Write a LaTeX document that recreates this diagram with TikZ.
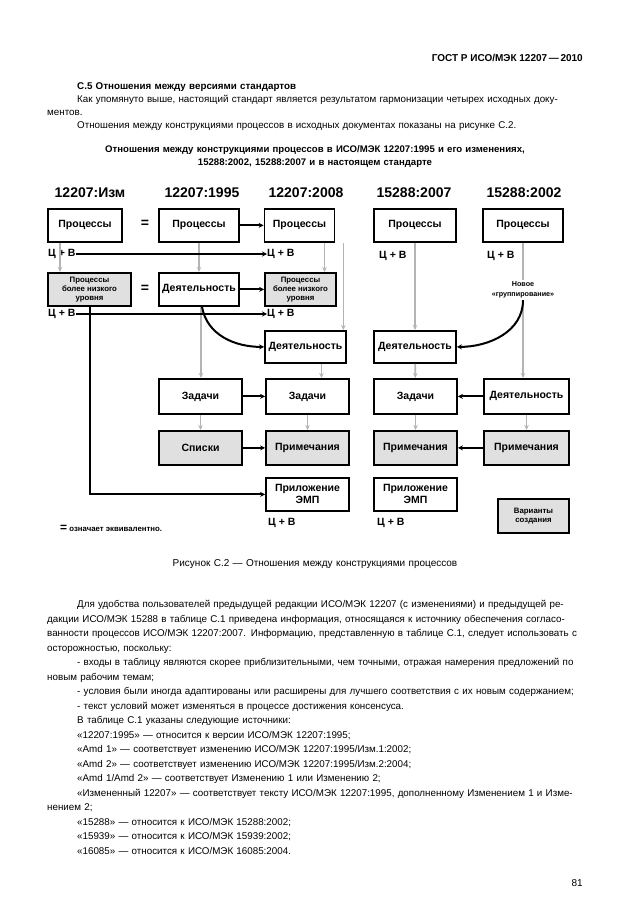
\documentclass[tikz,border=0pt]{standalone}
\usepackage{fontspec}
\setmainfont{Liberation Sans}
\usepackage{xcolor}
\usepackage{tikz}
\usetikzlibrary{
    calc,
    positioning,
    arrows.meta
}

\newcommand{\jline}[1]{\makebox[\linewidth][s]{#1}}
\newcommand{\jind}[1]{\hspace*{30pt}\makebox[\dimexpr\linewidth-30pt\relax][s]{#1}}
\newcommand{\ind}[1]{\hspace*{30pt}\mbox{#1}}

\begin{document}
\begin{tikzpicture}[
    x=1pt, y=-1pt,
    font=\bfseries\fontsize{10.5}{12}\selectfont,
    box/.style={
    	draw,
    	line width=1.8pt,
    	minimum width=82pt,
    	minimum height=33pt,
    	inner sep=1pt, align=center, anchor=north
    }, small/.style={
    	font=\bfseries\fontsize{7.8}{9}\selectfont
    }, pil/.style={
    	-{Stealth[length=5pt, width=5pt]},
    	line width=2pt
    }, gpil/.style={
    	-{Stealth[length=5pt, width=4.5pt]},
    	draw=my-grey,
    	line width=1.6pt
    }, lab/.style={
    	inner sep=0pt, anchor=west,
    	font=\bfseries\fontsize{10.5}{12}\selectfont
    }, head/.style={
    	inner sep=0pt,
    	font=\bfseries\fontsize{14}{15}\selectfont
    }, body/.style={
    	inner sep=0pt, anchor=base west, text width=541pt, align=left,
    	font=\mdseries\fontsize{9.8}{14.5}\selectfont
    }]
    \definecolor{my-fill}{RGB}{224, 224, 224}
    \definecolor{my-grey}{RGB}{180, 180, 180}

    \fill[white] (0,0) rectangle (630,913);
    \useasboundingbox (0,0) rectangle (630,913);

    %%% PAGE TEXT
    \node[inner sep=0pt, anchor=base east, font=\bfseries\fontsize{10}{12}\selectfont] (gost) at (583,61) {ГОСТ Р ИСО/МЭК 12207\,—\,2010};

    \node[body, font=\mdseries\fontsize{9.8}{13}\selectfont] (par-a) at (47,89.5) {%
    	\ind{\textbf{С.5 Отношения между версиями стандартов}}\\
    	\jind{Как упомянуто выше, настоящий стандарт является результатом гармонизации четырех исходных доку-}\\
    	\mbox{ментов.}\\
    	\ind{Отношения между конструкциями процессов в исходных документах показаны на рисунке С.2.}};

    \node[body, anchor=base, text width=560pt, align=center, font=\bfseries\fontsize{9.6}{13}\selectfont] (title) at (315,152.5) {%
    	Отношения между конструкциями процессов в ИСО/МЭК 12207:1995 и его изменениях,\\
    	15288:2002, 15288:2007 и в настоящем стандарте};

    %%% COLUMN HEADS
    \node[head] (head-1) at (90,193) {12207:Изм};
    \node[head] (head-2) at (202,193) {12207:1995};
    \node[head] (head-3) at (306,193) {12207:2008};
    \node[head] (head-4) at (414,193) {15288:2007};
    \node[head] (head-5) at (524,193) {15288:2002};

    %%% BOXES
    \node[box, minimum width=74pt] (proc-1) at (85,208) {Процессы};
    \node[box, minimum width=80pt] (proc-2) at (199,208) {Процессы};
    \node[box, minimum width=70pt] (proc-3) at (299.5,208) {Процессы};
    \node[box, minimum width=82pt] (proc-4) at (415,208) {Процессы};
    \node[box, minimum width=80pt] (proc-5) at (523,208) {Процессы};

    \node[box, small, fill=my-fill, minimum width=83pt] (low-1) at (89.5,272) {Процессы\\более низкого\\уровня};
    \node[box, minimum width=80pt] (act-2) at (199,272) {Деятельность};
    \node[box, small, fill=my-fill, minimum width=71pt] (low-3) at (300.5,272) {Процессы\\более низкого\\уровня};

    \node[box, minimum width=81pt, minimum height=32pt] (act-3) at (305.5,330) {Деятельность};
    \node[box, minimum width=82pt, minimum height=32pt] (act-4) at (415,330) {Деятельность};

    \node[box, minimum width=83pt, minimum height=35pt] (task-2) at (200.5,378) {Задачи};
    \node[box, minimum width=83pt, minimum height=35pt] (task-3) at (307.5,378) {Задачи};
    \node[box, minimum width=83pt, minimum height=35pt] (task-4) at (415.5,378) {Задачи};
    \node[box, minimum width=85pt, minimum height=35pt] (act-5) at (526.5,378) {Деятельность};

    \node[box, fill=my-fill, minimum width=83pt, minimum height=34pt] (list-2) at (200.5,430) {Списки};
    \node[box, fill=my-fill, minimum width=83pt, minimum height=34pt] (note-3) at (307.5,430) {Примечания};
    \node[box, fill=my-fill, minimum width=83pt, minimum height=34pt] (note-4) at (415.5,430) {Примечания};
    \node[box, fill=my-fill, minimum width=85pt, minimum height=34pt] (note-5) at (526.5,430) {Примечания};

    \node[box, minimum width=83pt] (emp-3) at (307.5,477) {Приложение\\ЭМП};
    \node[box, minimum width=83pt] (emp-4) at (415.5,477) {Приложение\\ЭМП};

    \node[box, small, fill=my-fill, minimum width=71pt, minimum height=34pt] (var) at (533.5,498) {Варианты\\создания};

    %%% LABELS
    \node[lab] (cv1-1) at (48,254) {Ц + В};
    \node[lab] (cv1-3) at (267,254) {Ц + В};
    \node[lab] (cv1-4) at (379,256) {Ц + В};
    \node[lab] (cv1-5) at (487,256) {Ц + В};
    \node[lab] (cv2-1) at (48,314) {Ц + В};
    \node[lab] (cv2-3) at (267,314) {Ц + В};
    \node[lab] (cv3-3) at (268,523) {Ц + В};
    \node[lab] (cv3-4) at (377,523) {Ц + В};

    \node[font=\bfseries\fontsize{14}{14}\selectfont] (eq-1) at (145,224) {=};
    \node[font=\bfseries\fontsize{14}{14}\selectfont] (eq-2) at (145,289) {=};

    \node[font=\bfseries\fontsize{7.2}{9.5}\selectfont, align=center, inner sep=2pt] (newgrp) at (523,290) {Новое\\«группирование»};

    \node[inner sep=0pt, anchor=west, font=\bfseries\fontsize{7.8}{9}\selectfont] (legend) at (60,528) {{\fontsize{12}{12}\selectfont =}\ означает эквивалентно.};

    %%% EDGES
    \draw[gpil] ([xshift=-25pt]proc-1.south) -- ([xshift=-25pt]proc-1.south |- low-1.north);
    \draw[gpil] (proc-2) -- (act-2);
    \draw[gpil] ([xshift=2pt]act-2.south) -- ([xshift=2pt]act-2.south |- task-2.north);
    \draw[gpil] (task-2) -- (list-2);
    \draw[gpil] ([xshift=25pt]proc-3.south) -- ([xshift=25pt]proc-3.south |- low-3.north);
    \draw[gpil] ([xshift=8pt]proc-3.south east) -- ([xshift=8pt]proc-3.south east |- act-3.north);
    \draw[gpil] ([xshift=16pt]act-3.south) -- ([xshift=16pt]act-3.south |- task-3.north);
    \draw[gpil] (task-3) -- (note-3);
    \draw[gpil] (proc-4) -- (act-4);
    \draw[gpil] (act-4) -- (task-4);
    \draw[gpil] (task-4) -- (note-4);
    \draw[draw=my-grey, line width=1.6pt] (proc-5) -- (newgrp);
    \draw[gpil] (newgrp) -- (newgrp |- act-5.north);
    \draw[gpil] (act-5) -- (note-5);

    \draw[pil] (proc-2) -- (proc-3);
    \draw[pil] (act-2) -- (low-3);
    \draw[pil] (task-2) -- (task-3);
    \draw[pil] (list-2) -- (note-3);
    \draw[pil] (act-5) -- (task-4);
    \draw[pil] (note-5) -- (note-4);
    \draw[pil] (cv1-1) -- (cv1-3);
    \draw[pil] (cv2-1) -- (cv2-3);
    \draw[pil] (low-1) |- (emp-3);
    \draw[pil] ([xshift=3pt]act-2.south) to[out=-80, in=180] (act-3);
    \draw[pil] (newgrp) to[out=-90, in=0] (act-4);

    %%% CAPTION AND TEXT BELOW
    \node[body, anchor=base, text width=560pt, align=center, font=\mdseries\fontsize{10}{12}\selectfont] (caption) at (315,566.5) {Рисунок С.2 — Отношения между конструкциями процессов};

    \node[body] (par-b) at (47,607.5) {%
    	\jind{Для удобства пользователей предыдущей редакции ИСО/МЭК 12207 (с изменениями) и предыдущей ре-}\\
    	\jline{дакции ИСО/МЭК 15288 в таблице С.1 приведена информация, относящаяся к источнику обеспечения согласо-}\\
    	\jline{ванности процессов ИСО/МЭК 12207:2007. Информацию, представленную в таблице С.1, следует использовать с}\\
    	\mbox{осторожностью, поскольку:}\\
    	\jind{- входы в таблицу являются скорее приблизительными, чем точными, отражая намерения предложений по}\\
    	\mbox{новым рабочим темам;}\\
    	\ind{- условия были иногда адаптированы или расширены для лучшего соответствия с их новым содержанием;}\\
    	\ind{- текст условий может изменяться в процессе достижения консенсуса.}\\
    	\ind{В таблице С.1 указаны следующие источники:}\\
    	\ind{«12207:1995» — относится к версии ИСО/МЭК 12207:1995;}\\
    	\ind{«Amd 1» — соответствует изменению ИСО/МЭК 12207:1995/Изм.1:2002;}\\
    	\ind{«Amd 2» — соответствует изменению ИСО/МЭК 12207:1995/Изм.2:2004;}\\
    	\ind{«Amd 1/Amd 2» — соответствует Изменению 1 или Изменению 2;}\\
    	\jind{«Измененный 12207» — соответствует тексту ИСО/МЭК 12207:1995, дополненному Изменением 1 и Изме-}\\
    	\mbox{нением 2;}\\
    	\ind{«15288» — относится к ИСО/МЭК 15288:2002;}\\
    	\ind{«15939» — относится к ИСО/МЭК 15939:2002;}\\
    	\ind{«16085» — относится к ИСО/МЭК 16085:2004.}};

    \node[inner sep=0pt, anchor=base east, font=\mdseries\fontsize{10}{12}\selectfont] (page) at (583,886.5) {81};

\end{tikzpicture}
\end{document}
